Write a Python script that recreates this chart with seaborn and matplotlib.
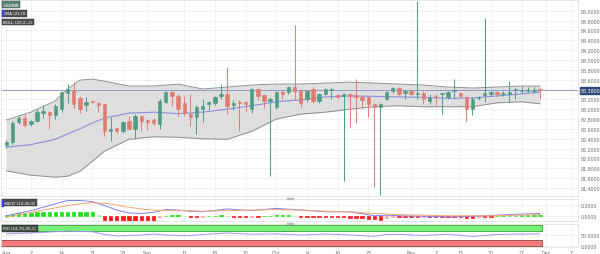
import numpy as np
import pandas as pd
import matplotlib
matplotlib.use("Agg")
import matplotlib.pyplot as plt
from matplotlib.patches import Rectangle
import seaborn as sns

# ---------------- data ----------------
open_ = [82.27, 82.33, 82.74, 82.83, 82.69, 82.77, 82.92, 82.95, 82.88, 83.00,
         83.32, 83.40, 83.22, 83.08, 83.17, 83.13, 83.10, 82.56, 82.61, 82.56,
         82.76, 82.60, 82.86, 82.78, 82.78, 82.70, 83.15, 83.35, 83.27, 83.13,
         82.90, 82.84, 83.00, 83.10, 83.12, 83.27, 83.31, 83.08, 83.15, 83.14,
         83.00, 83.41, 83.28, 83.17, 83.04, 83.35, 83.35, 83.45, 83.36, 83.21,
         83.41, 83.17, 83.31, 83.40, 83.28, 83.27, 83.31, 83.29, 83.25, 83.24,
         83.10, 83.04, 83.21, 83.37, 83.43, 83.33, 83.36, 83.30, 83.33, 83.17,
         83.26, 83.30, 83.24, 83.37, 83.33, 83.24, 83.00, 83.23, 83.29, 83.30,
         83.35, 83.31, 83.30, 83.39, 83.36, 83.37, 83.36, 83.41]
high = [82.38, 82.76, 82.86, 82.90, 82.79, 83.00, 83.08, 82.97, 83.10, 83.37,
        83.52, 83.56, 83.27, 83.24, 83.19, 83.14, 83.12, 82.84, 82.63, 82.76,
        82.86, 82.90, 82.88, 82.80, 82.83, 83.21, 83.37, 83.37, 83.30, 83.27,
        83.30, 83.08, 83.20, 83.16, 83.26, 83.51, 83.86, 83.18, 83.18, 83.16,
        83.43, 83.43, 83.30, 83.24, 83.37, 83.38, 83.47, 84.70, 83.38, 83.39,
        83.45, 83.33, 83.43, 83.43, 83.31, 83.33, 83.33, 83.61, 83.28, 83.27,
        83.13, 83.12, 83.37, 83.45, 83.45, 83.38, 83.38, 85.20, 83.36, 83.31,
        83.30, 83.33, 83.37, 83.61, 83.35, 83.27, 83.25, 83.27, 84.85, 83.37,
        83.37, 83.36, 83.57, 83.43, 83.48, 83.45, 83.45, 83.43]
low = [82.22, 82.30, 82.70, 82.64, 82.65, 82.75, 82.82, 82.60, 82.80, 82.95,
       83.12, 83.02, 82.93, 82.96, 83.12, 82.94, 82.45, 82.35, 82.52, 82.52,
       82.57, 82.39, 82.56, 82.58, 82.67, 82.60, 83.12, 83.07, 82.86, 82.86,
       82.66, 82.50, 82.75, 82.98, 83.08, 83.20, 82.90, 82.98, 82.56, 82.95,
       82.92, 83.18, 83.03, 81.65, 83.00, 83.20, 83.30, 83.18, 83.05, 83.15,
       83.12, 83.12, 83.28, 83.21, 83.20, 81.55, 82.63, 82.73, 83.03, 82.84,
       81.42, 81.25, 83.18, 83.33, 83.28, 83.20, 83.28, 83.20, 83.10, 83.10,
       83.08, 82.90, 83.20, 83.20, 83.22, 82.76, 82.88, 83.18, 83.14, 83.26,
       83.27, 83.26, 83.15, 83.21, 83.33, 83.34, 83.32, 83.21]
close = [82.33, 82.73, 82.83, 82.68, 82.76, 82.94, 82.97, 82.89, 83.06, 83.34,
         83.42, 83.10, 83.00, 83.15, 83.14, 83.09, 82.56, 82.60, 82.56, 82.74,
         82.60, 82.86, 82.76, 82.74, 82.71, 83.17, 83.35, 83.27, 83.00, 82.92,
         82.85, 83.04, 83.07, 83.14, 83.25, 83.31, 83.07, 83.13, 83.12, 83.11,
         83.41, 83.26, 83.17, 83.20, 83.35, 83.31, 83.45, 83.37, 83.12, 83.37,
         83.17, 83.31, 83.41, 83.42, 83.25, 83.31, 83.27, 83.25, 83.19, 83.11,
         83.04, 83.10, 83.35, 83.43, 83.31, 83.37, 83.31, 83.33, 83.21, 83.25,
         83.24, 83.32, 83.35, 83.40, 83.26, 83.00, 83.21, 83.25, 83.33, 83.35,
         83.31, 83.33, 83.35, 83.41, 83.39, 83.39, 83.40, 83.38]

band_idx = [0, 4, 8, 10, 12, 14, 16, 20, 24, 28, 32, 36, 40, 44, 48, 52, 56,
            60, 64, 68, 72, 76, 80, 84, 87]
boll_upper = [82.78, 82.94, 83.17, 83.41, 83.59, 83.61, 83.57, 83.47, 83.47,
              83.51, 83.41, 83.45, 83.49, 83.51, 83.51, 83.53, 83.55, 83.53,
              83.51, 83.49, 83.45, 83.43, 83.45, 83.47, 83.47]
boll_lower = [81.75, 81.66, 81.62, 81.64, 81.74, 81.94, 82.15, 82.39, 82.44,
              82.43, 82.40, 82.39, 82.55, 82.80, 82.90, 82.94, 83.00, 83.05,
              83.07, 83.05, 83.05, 83.05, 83.13, 83.15, 83.11]
sma21 = [82.23, 82.28, 82.39, 82.50, 82.60, 82.72, 82.82, 82.92, 82.94, 82.91,
         82.94, 83.00, 83.07, 83.15, 83.19, 83.25, 83.27, 83.26, 83.25, 83.24,
         83.22, 83.23, 83.27, 83.31, 83.35]

ind_idx = [0, 4, 8, 10, 12, 14, 16, 18, 20, 22, 24, 26, 28, 30, 32, 36, 40,
           44, 48, 52, 56, 60, 62, 64, 68, 72, 76, 80, 84, 87]
macd_line = [0.01, 0.10, 0.22, 0.28, 0.28, 0.26, 0.19, 0.11, 0.06, 0.05, 0.07,
             0.12, 0.11, 0.09, 0.08, 0.13, 0.10, 0.14, 0.11, 0.08, 0.08, 0.01,
             0.02, 0.01, 0.00, -0.01, 0.00, 0.02, 0.04, 0.05]
macd_signal = [-0.02, 0.07, 0.15, 0.19, 0.22, 0.24, 0.23, 0.20, 0.16, 0.13,
               0.11, 0.10, 0.10, 0.10, 0.09, 0.10, 0.11, 0.12, 0.11, 0.09,
               0.08, 0.05, 0.04, 0.03, 0.02, 0.01, 0.01, 0.01, 0.02, 0.03]
macd_hist = [0.02, 0.04, 0.05, 0.06, 0.06, 0.07, 0.07, 0.07, 0.07, 0.08,
             0.08, 0.08, 0.08, 0.08, 0.08, 0.02, -0.07, -0.08, -0.08, -0.08,
             -0.08, -0.08, -0.08, -0.08, -0.08, -0.02, 0.01, 0.02, 0.02, 0.01,
             -0.01, -0.02, -0.01, 0.01, 0.01, 0.02, 0.01, -0.01, -0.02, -0.02,
             -0.01, -0.01, 0.01, 0.01, 0.02, 0.02, 0.02, 0.01, -0.01, -0.01,
             -0.01, -0.01, -0.01, -0.01, -0.01, -0.02, -0.03, -0.03, -0.03, -0.04,
             -0.05, -0.06, -0.03, -0.02, -0.02, -0.02, -0.02, -0.02, -0.01, -0.01,
             -0.01, -0.01, -0.01, -0.01, -0.02, -0.03, -0.03, -0.01, -0.01, -0.01,
             0.01, 0.01, 0.01, 0.01, 0.02, 0.02, 0.02, 0.02]
rsi = [58, 62, 68, 72, 70, 68, 55, 48, 50, 52, 57, 52, 50, 50, 55, 62, 56,
       58, 52, 57, 52, 46, 55, 55, 50, 56, 45, 55, 57, 58]
rsi_levels = [30, 70]

price_ticks = [81.4, 81.6, 81.8, 82.0, 82.2, 82.4, 82.6, 82.8, 83.0, 83.2,
               83.4, 83.6, 83.8, 84.0, 84.2, 84.4, 84.6, 84.8, 85.0]
macd_ticks = [0.0, 0.2]
rsi_ticks = [0, 50]
tick_dates = ["2023-08-01", "2023-08-07", "2023-08-14", "2023-08-21", "2023-08-28",
              "2023-09-01", "2023-09-11", "2023-09-18", "2023-09-25", "2023-10-02",
              "2023-10-09", "2023-10-16", "2023-10-23", "2023-11-01", "2023-11-07",
              "2023-11-13", "2023-11-20", "2023-11-27", "2023-12-01", "2023-12-07"]
tick_labels = ["Aug", "7", "14", "21", "28", "Sep", "11", "18", "25", "Oct",
               "9", "16", "23", "Nov", "7", "13", "20", "27", "Dec", "7"]
symbol = "USDINR"
legend_labels = ["USDINR", "SMA (21.0)", "BOLL (20.2,-2)"]
macd_label = "MACD (12,26,9)"
rsi_label = "RSI (14,70,30,1)"

# ---------------- style ----------------
sns.set_theme(style="whitegrid")
plt.rcParams["font.family"] = ["DejaVu Sans"]

GREEN = "#4f9a84"
RED = "#e07b6f"
GRID = "#ededed"
SPINE = "#e2e2e2"
TXT = "#6a6a6a"
FS = 3.4

W, H = 600, 255
fig = plt.figure(figsize=(W / 100, H / 100), dpi=100)
fig.patch.set_facecolor("white")


def rect(x0, y0, x1, y1):
    return [x0 / W, 1 - y1 / H, (x1 - x0) / W, (y1 - y0) / H]


ax = fig.add_axes(rect(0.5, 1, 578, 197))
axm = fig.add_axes(rect(0.5, 199.5, 578, 222), sharex=ax)
axr = fig.add_axes(rect(0.5, 224.5, 578, 248), sharex=ax)

n = len(close)
x = np.arange(n)
o = np.array(open_); c = np.array(close); hi = np.array(high); lo = np.array(low)
up = c >= o
cols = np.where(up, GREEN, RED)

dates = pd.bdate_range("2023-08-01", periods=n + 10)
tick_pos = dates.get_indexer(pd.to_datetime(tick_dates))

for a in (ax, axm, axr):
    a.set_facecolor("white")
    for s in a.spines.values():
        s.set_color(SPINE)
        s.set_linewidth(0.6)
    a.grid(True, color=GRID, linewidth=0.5)
    a.yaxis.tick_right()
    a.tick_params(axis="both", length=0, labelsize=FS, colors=TXT, pad=2)
    a.set_xticks(tick_pos)
    a.set_xlabel("")
    a.set_ylabel("")
    a.set_axisbelow(True)

xmin, xmax = -0.95, 93.2
ax.set_xlim(xmin, xmax)

# ---------------- main panel ----------------
ax.fill_between(band_idx, boll_lower, boll_upper, color="#dadada", alpha=0.85,
                linewidth=0, zorder=1)
sns.lineplot(x=band_idx, y=boll_upper, ax=ax, color="#8f8f8f", linewidth=0.7, zorder=2)
sns.lineplot(x=band_idx, y=boll_lower, ax=ax, color="#8f8f8f", linewidth=0.7, zorder=2)
sns.lineplot(x=band_idx, y=sma21, ax=ax, color="#8c90dc", linewidth=0.8, zorder=2)

ax.axhline(close[-1], color="#8393c4", linewidth=0.6, zorder=2)

ax.vlines(x, lo, hi, colors=cols, linewidth=0.7, zorder=3)
body_lo = np.minimum(o, c)
body_h = np.abs(c - o)
ax.bar(x, body_h, bottom=body_lo, width=0.55, color=cols, edgecolor=cols,
       linewidth=0.4, zorder=4)

ax.set_ylim(81.238, 85.217)
ax.set_yticks(price_ticks)
ax.set_yticklabels([f"{v:.4f}" for v in price_ticks])
ax.tick_params(axis="x", labelbottom=False)

# current price label
fig.text(581 / W, 1 - 91.6 / H, f"{close[-1]:.4f}", fontsize=FS, color="white",
         va="center", ha="left",
         bbox=dict(boxstyle="square,pad=0.25", facecolor="#2f4a78",
                   edgecolor="#2f4a78"))

# legend boxes
leg_y = [5.6, 14.2, 23.0]
leg_bg = ["#4d7a6b", "#3d3d3d", "#3d3d3d"]
for lab, yy, bg in zip(legend_labels, leg_y, leg_bg):
    fig.text(3.2 / W, 1 - yy / H, lab, fontsize=FS - 0.4, color="white",
             va="center", ha="left",
             bbox=dict(boxstyle="square,pad=0.35", facecolor=bg, edgecolor="#222222",
                       linewidth=0.3, alpha=0.9))
fig.add_artist(Rectangle((1.8 / W, 1 - 17.2 / H), 1.2 / W, 6.0 / H,
                         transform=fig.transFigure, color="#3344dd", zorder=10))

# ---------------- MACD ----------------
h = np.array(macd_hist)
prev = np.concatenate([[0.0], h[:-1]])
hcols = []
for v, p in zip(h, prev):
    if v >= 0:
        hcols.append("#1fe01f" if v >= p else "#a3eea3")
    else:
        hcols.append("#ff1a1a" if v <= p else "#f5a9a9")
axm.bar(x, h, width=0.55, color=hcols, edgecolor=hcols, linewidth=0.5, zorder=3)
sns.lineplot(x=ind_idx, y=macd_line, ax=axm, color="#8080f0", linewidth=0.7, zorder=4)
sns.lineplot(x=ind_idx, y=macd_signal, ax=axm, color="#f2a66e", linewidth=0.7, zorder=4)
axm.set_ylim(-0.083, 0.315)
axm.set_yticks(macd_ticks)
axm.set_yticklabels([f"{v:.4f}" for v in macd_ticks])
axm.tick_params(axis="x", labelbottom=False)
fig.text(3.2 / W, 1 - 203.6 / H, macd_label, fontsize=FS - 0.4, color="white",
         va="center", ha="left",
         bbox=dict(boxstyle="square,pad=0.35", facecolor="#3d3d3d", edgecolor="#222222",
                   linewidth=0.3, alpha=0.9))
fig.add_artist(Rectangle((1.8 / W, 1 - 206.6 / H), 1.2 / W, 6.0 / H,
                         transform=fig.transFigure, color="#3344dd", zorder=10))

# ---------------- RSI ----------------
band_x = [xmin, n - 0.6]
axr.fill_between(band_x, rsi_levels[1], 100, color="#78f078", edgecolor="#3e9e3e",
                 linewidth=0.6, zorder=2)
axr.fill_between(band_x, 0, rsi_levels[0], color="#f77b7b", edgecolor="#8a4a4a",
                 linewidth=0.6, zorder=2)
sns.lineplot(x=ind_idx, y=rsi, ax=axr, color="#9a9af5", linewidth=0.7, zorder=3)
axr.set_ylim(-6.5, 108.5)
axr.set_yticks(rsi_ticks)
axr.set_yticklabels([f"{v:.4f}" for v in rsi_ticks])
axr.set_xticklabels(tick_labels)
axr.tick_params(axis="x", pad=2.2)
fig.text(3.2 / W, 1 - 229.3 / H, rsi_label, fontsize=FS - 0.4, color="white",
         va="center", ha="left",
         bbox=dict(boxstyle="square,pad=0.35", facecolor="#3d3d3d", edgecolor="#222222",
                   linewidth=0.3, alpha=0.9))

# drag handles on sub panels
for yy in (198.6, 223.6):
    fig.add_artist(Rectangle((286.5 / W, 1 - (yy + 1.6) / H), 6.0 / W, 1.6 / H,
                             transform=fig.transFigure, color="#b5b5b5", zorder=10))

fig.savefig("out.png", dpi=100, facecolor="white")
